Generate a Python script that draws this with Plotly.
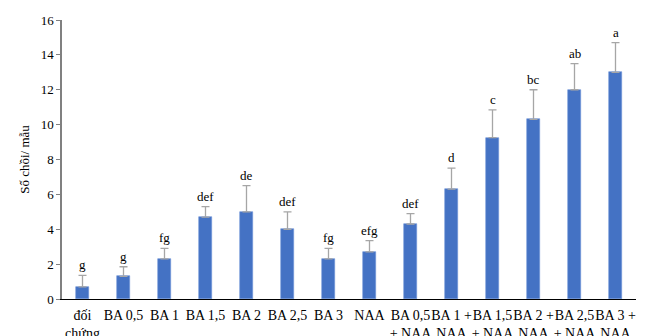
import plotly.graph_objects as go

# Treatments (x categories)
categories = [
    "đối<br>chứng", "BA 0,5", "BA 1", "BA 1,5", "BA 2", "BA 2,5", "BA 3", "NAA",
    "BA 0,5<br>+ NAA", "BA 1 +<br>NAA", "BA 1,5<br>+ NAA", "BA 2 +<br>NAA",
    "BA 2,5<br>+ NAA", "BA 3 +<br>NAA",
]
# Mean shoots per explant
shoots = [0.7, 1.3, 2.3, 4.7, 5.0, 4.0, 2.3, 2.7, 4.3, 6.3, 9.25, 10.3, 12.0, 13.0]
# Standard deviation (upper error bar)
errors = [0.65, 0.55, 0.6, 0.6, 1.5, 1.0, 0.6, 0.65, 0.6, 1.2, 1.6, 1.7, 1.5, 1.7]
# Significance letters
letters = ["g", "g", "fg", "def", "de", "def", "fg", "efg", "def", "d", "c", "bc", "ab", "a"]

y_ticks = [0, 2, 4, 6, 8, 10, 12, 14, 16]

serif = "Times New Roman, Liberation Serif, serif"

fig = go.Figure()
fig.add_trace(go.Bar(
    x=categories,
    y=shoots,
    width=0.32,
    marker=dict(color="#4472C4", line=dict(color="#6f93d6", width=0.6)),
    error_y=dict(type="data", array=errors, symmetric=False,
                 arrayminus=[0] * len(errors),
                 color="#a6a6a6", thickness=1.3, width=4),
))

for cat, v, e, lab in zip(categories, shoots, errors, letters):
    fig.add_annotation(
        x=cat, y=v + e, text=lab, showarrow=False,
        yanchor="bottom", yshift=1,
        font=dict(family=serif, size=13, color="#000000"),
    )

fig.update_layout(
    width=650, height=336,
    margin=dict(l=62, r=14, t=20, b=37),
    paper_bgcolor="white", plot_bgcolor="white",
    showlegend=False,
    bargap=0,
    font=dict(family=serif, size=13, color="#000000"),
)
fig.update_xaxes(
    type="category",
    showline=True, linecolor="#000000", linewidth=1.2,
    ticks="", showgrid=False, automargin=False, tickangle=0,
    ticklabelstandoff=3,
    tickfont=dict(family=serif, size=14, color="#000000"),
)
fig.update_yaxes(
    range=[0, 16], tickvals=y_ticks,
    showline=True, linecolor="#808080", linewidth=1.5,
    ticks="outside", ticklen=4, tickcolor="#808080",
    showgrid=False, zeroline=False, automargin=False,
    tickfont=dict(family=serif, size=13, color="#000000"),
    title=dict(text="Số chồi/ mẫu", font=dict(family=serif, size=13), standoff=8),
)

fig.write_html("out.html")
